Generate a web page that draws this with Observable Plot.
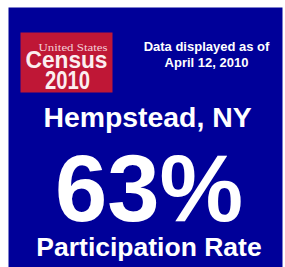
<!DOCTYPE html>
<html>
<head>
<meta charset="utf-8">
<script src="https://cdn.jsdelivr.net/npm/d3@7"></script>
<script src="https://cdn.jsdelivr.net/npm/@observablehq/plot@0.6"></script>
<style>
  html, body { margin: 0; padding: 0; background: #ffffff; }
  #chart svg { display: block; }
</style>
</head>
<body>
<div id="chart"></div>
<script>
// ---- data ----
const logoLines = ["United States", "Census", "2010"];
const asOfLines = ["Data displayed as of", "April 12, 2010"];
const places = ["Hempstead, NY"];
const rates = [63];
const rateLabels = ["Participation Rate"];

const BLUE = "#000099";
const RED = "#bf1736";
const FONT = "'Liberation Sans', Arial, Helvetica, sans-serif";

const chart = Plot.plot({
  width: 285,
  height: 267,
  marginLeft: 8,
  marginTop: 7,
  marginRight: 3,
  marginBottom: 0,
  style: { background: "#ffffff", fontFamily: FONT },
  marks: [
    Plot.frame({ fill: BLUE, stroke: null }),
    Plot.frame({ fill: RED, stroke: null, insetLeft: 12, insetTop: 25, insetRight: 170, insetBottom: 175 }),
    // logo text
    Plot.text([logoLines[0]], {
      text: d => d, frameAnchor: "top-left", dx: 64.5, dy: 43, lineAnchor: "bottom",
      textAnchor: "middle", fill: "#f3cfd6", fontSize: 11, fontFamily: "'Liberation Serif', 'Times New Roman', serif"
    }),
    Plot.text([logoLines[1]], {
      text: d => d, frameAnchor: "top-left", dx: 58, dy: 60, lineAnchor: "bottom",
      textAnchor: "middle", fill: "#fbeef0", fontSize: 23.5, fontWeight: "bold"
    }),
    Plot.text([logoLines[2]], {
      text: d => d, frameAnchor: "top-left", dx: 59, dy: 81, lineAnchor: "bottom",
      textAnchor: "middle", fill: "#fbeef0", fontSize: 26, fontWeight: "bold"
    }),
    // as-of text
    Plot.text([asOfLines.join("\n")], {
      text: d => d, frameAnchor: "top", dx: 61, dy: 59, lineAnchor: "bottom",
      textAnchor: "middle", fill: "#ffffff", fontSize: 13, fontWeight: "bold", lineHeight: 1.23
    }),
    // place
    Plot.text(places, {
      text: d => d, frameAnchor: "top", dx: 2, dy: 119, lineAnchor: "bottom",
      textAnchor: "middle", fill: "#ffffff", fontSize: 28.4, fontWeight: "bold"
    }),
    // rate
    Plot.text(rates, {
      text: d => `${d}%`, frameAnchor: "top", dx: 3.5, dy: 213, lineAnchor: "bottom",
      textAnchor: "middle", fill: "#ffffff", fontSize: 94, fontWeight: "bold"
    }),
    // label
    Plot.text(rateLabels, {
      text: d => d, frameAnchor: "top", dx: 3.5, dy: 248, lineAnchor: "bottom",
      textAnchor: "middle", fill: "#ffffff", fontSize: 26.5, fontWeight: "bold"
    })
  ]
});

// condense logo text to match the wordmark
chart.querySelectorAll("text").forEach(t => {
  const s = t.textContent;
  if (s === logoLines[0]) { t.setAttribute("textLength", 69); t.setAttribute("lengthAdjust", "spacingAndGlyphs"); }
  if (s === logoLines[1]) { t.setAttribute("textLength", 82); t.setAttribute("lengthAdjust", "spacingAndGlyphs"); }
  if (s === logoLines[2]) { t.setAttribute("textLength", 45); t.setAttribute("lengthAdjust", "spacingAndGlyphs"); }
});

document.getElementById("chart").appendChild(chart);
</script>
</body>
</html>
